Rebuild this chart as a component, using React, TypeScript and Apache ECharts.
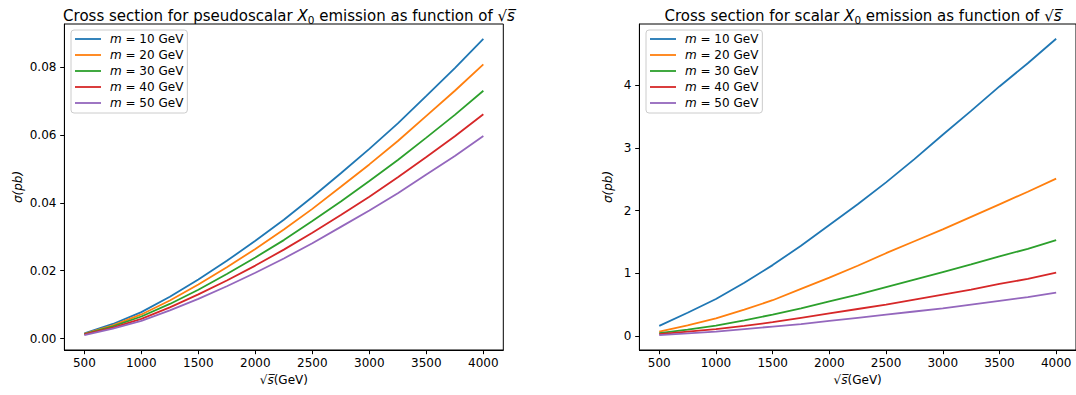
import React, { useEffect, useRef } from "react";
import * as echarts from "echarts";

const sqrtS = [500, 750, 1000, 1250, 1500, 1750, 2000, 2250, 2500, 2750, 3000, 3250, 3500, 3750, 4000];
const masses = [10, 20, 30, 40, 50];
const colors = ["#1f77b4", "#ff7f0e", "#2ca02c", "#d62728", "#9467bd"];

const pseudoM10 = [0.0015, 0.0043, 0.0078, 0.0123, 0.0174, 0.0229, 0.0288, 0.035, 0.0417, 0.0487, 0.0559, 0.0634, 0.0715, 0.0797, 0.0883];
const pseudoM20 = [0.0014, 0.0039, 0.0071, 0.0112, 0.0159, 0.021, 0.0264, 0.0321, 0.0382, 0.0447, 0.0513, 0.0582, 0.0656, 0.073, 0.0808];
const pseudoM30 = [0.0013, 0.0036, 0.0065, 0.0102, 0.0144, 0.019, 0.0239, 0.029, 0.0346, 0.0404, 0.0464, 0.0526, 0.0592, 0.0659, 0.073];
const pseudoM40 = [0.0012, 0.0032, 0.0058, 0.0092, 0.013, 0.0171, 0.0215, 0.0262, 0.0312, 0.0364, 0.0418, 0.0475, 0.0535, 0.0596, 0.0661];
const pseudoM50 = [0.001, 0.0029, 0.0052, 0.0083, 0.0117, 0.0154, 0.0194, 0.0236, 0.0281, 0.0329, 0.0377, 0.0428, 0.0483, 0.0538, 0.0597];

const scalarM10 = [0.16, 0.37, 0.59, 0.85, 1.13, 1.44, 1.77, 2.1, 2.45, 2.82, 3.21, 3.59, 3.98, 4.35, 4.74];
const scalarM20 = [0.07, 0.17, 0.28, 0.42, 0.57, 0.75, 0.93, 1.12, 1.32, 1.51, 1.7, 1.9, 2.1, 2.3, 2.51];
const scalarM30 = [0.045, 0.1, 0.165, 0.25, 0.34, 0.44, 0.55, 0.66, 0.78, 0.9, 1.02, 1.14, 1.27, 1.39, 1.53];
const scalarM40 = [0.03, 0.07, 0.11, 0.16, 0.22, 0.29, 0.36, 0.43, 0.5, 0.58, 0.66, 0.74, 0.83, 0.91, 1.01];
const scalarM50 = [0.012, 0.04, 0.07, 0.11, 0.15, 0.19, 0.24, 0.29, 0.34, 0.39, 0.44, 0.5, 0.56, 0.62, 0.69];

const xTicks = [500, 1000, 1500, 2000, 2500, 3000, 3500, 4000];
const leftYTicks = [0, 0.02, 0.04, 0.06, 0.08];
const rightYTicks = [0, 1, 2, 3, 4];

const pseudoSeries = [pseudoM10, pseudoM20, pseudoM30, pseudoM40, pseudoM50];
const scalarSeries = [scalarM10, scalarM20, scalarM30, scalarM40, scalarM50];

const FONT = "DejaVu Sans";
const names = masses.map((m) => `m = ${m} GeV`);

const titleRich = {
  n: { fontFamily: FONT, fontSize: 15, fontWeight: "normal", color: "#000", lineHeight: 18 },
  i: { fontFamily: FONT, fontSize: 15, fontWeight: "normal", fontStyle: "italic", color: "#000", lineHeight: 18 },
  sub: { fontFamily: FONT, fontSize: 10.5, fontWeight: "normal", color: "#000", lineHeight: 10, verticalAlign: "bottom" },
};

const axisNameRich = {
  r: { fontFamily: FONT, fontSize: 12, color: "#000" },
  i: { fontFamily: FONT, fontSize: 12, fontStyle: "italic", color: "#000" },
};

function xAxisCfg(gridIndex: number) {
  return {
    type: "value",
    gridIndex,
    min: 325,
    max: 4175,
    splitLine: { show: false },
    axisLine: { show: true, onZero: false, lineStyle: { color: "#000", width: 1 } },
    axisTick: { show: true, length: 4.2, customValues: xTicks, lineStyle: { color: "#000", width: 1 } },
    axisLabel: {
      show: true,
      customValues: xTicks,
      margin: 7,
      fontFamily: FONT,
      fontSize: 12,
      color: "#000",
      formatter: (v: number) => String(v),
    },
    name: "{r|√}{i|s\u0305}{r|(GeV)}",
    nameLocation: "middle",
    nameGap: 24,
    nameTextStyle: { rich: axisNameRich },
  };
}

function yAxisCfg(gridIndex: number, min: number, max: number, ticks: number[], fmt: (v: number) => string, gap: number) {
  return {
    type: "value",
    gridIndex,
    min,
    max,
    splitLine: { show: false },
    axisLine: { show: true, onZero: false, lineStyle: { color: "#000", width: 1 } },
    axisTick: { show: true, length: 4.2, customValues: ticks, lineStyle: { color: "#000", width: 1 } },
    axisLabel: {
      show: true,
      customValues: ticks,
      margin: 8,
      fontFamily: FONT,
      fontSize: 12,
      color: "#000",
      formatter: fmt,
    },
    name: "{i|σ(pb)}",
    nameLocation: "middle",
    nameGap: gap,
    nameRotate: 90,
    nameTextStyle: { rich: axisNameRich },
  };
}

function legendCfg(left: number) {
  return {
    left,
    top: 30,
    orient: "vertical",
    data: names,
    icon: "rect",
    itemWidth: 26,
    itemHeight: 1.8,
    itemGap: 4,
    padding: [3, 4, 4, 4],
    backgroundColor: "rgba(255,255,255,0.8)",
    borderColor: "#cccccc",
    borderWidth: 1,
    borderRadius: 3,
    selectedMode: false,
    formatter: (name: string) => {
      const rest = name.replace(/^m/, "");
      return `{i|m}{r|${rest}}`;
    },
    textStyle: {
      rich: {
        i: { fontFamily: FONT, fontSize: 12, fontStyle: "italic", color: "#000", lineHeight: 14, padding: [0, 0, 0, 4] },
        r: { fontFamily: FONT, fontSize: 12, color: "#000", lineHeight: 14 },
      },
    },
  };
}

export default function App() {
  const ref = useRef<HTMLDivElement>(null);
  useEffect(() => {
    if (!ref.current) return;
    const chart = echarts.init(ref.current, null, { renderer: "svg" });
    const series: any[] = [];
    pseudoSeries.forEach((vals, k) => {
      series.push({
        type: "line",
        name: names[k],
        xAxisIndex: 0,
        yAxisIndex: 0,
        showSymbol: false,
        symbol: "none",
        color: colors[k],
        lineStyle: { color: colors[k], width: 1.8 },
        data: sqrtS.map((x, j) => [x, vals[j]]),
      });
    });
    scalarSeries.forEach((vals, k) => {
      series.push({
        type: "line",
        name: names[k],
        xAxisIndex: 1,
        yAxisIndex: 1,
        showSymbol: false,
        symbol: "none",
        color: colors[k],
        lineStyle: { color: colors[k], width: 1.8 },
        data: sqrtS.map((x, j) => [x, vals[j]]),
      });
    });
    chart.setOption({
      animation: false,
      backgroundColor: "#fff",
      title: [
        {
          text: "{n|Cross section for pseudoscalar }{i|X}{sub|0}{n| emission as function of √}{i|s\u0305}",
          left: 284,
          top: 2,
          textAlign: "center",
          textStyle: { fontWeight: "normal", fontFamily: FONT, fontSize: 15, rich: titleRich },
        },
        {
          text: "{n|Cross section for scalar }{i|X}{sub|0}{n| emission as function of √}{i|s\u0305}",
          left: 858,
          top: 2,
          textAlign: "center",
          textStyle: { fontWeight: "normal", fontFamily: FONT, fontSize: 15, rich: titleRich },
        },
      ],
      legend: [legendCfg(71), legendCfg(646)],
      grid: [
        { left: 64.4, top: 24, width: 438.9, height: 326, show: true, borderColor: "#000", borderWidth: 1, backgroundColor: "transparent" },
        { left: 639.4, top: 24, width: 437.8, height: 326, show: true, borderColor: "#000", borderWidth: 1, backgroundColor: "transparent" },
      ],
      xAxis: [xAxisCfg(0), xAxisCfg(1)],
      yAxis: [
        yAxisCfg(0, -0.00337, 0.09267, leftYTicks, (v: number) => v.toFixed(2), 40),
        yAxisCfg(1, -0.224, 4.976, rightYTicks, (v: number) => String(Math.round(v)), 25),
      ],
      series,
    });
    return () => chart.dispose();
  }, []);
  return (
    <div
      ref={ref}
      style={{ position: "fixed", left: 0, top: 0, width: 1076, height: 395, background: "#fff" }}
    />
  );
}
